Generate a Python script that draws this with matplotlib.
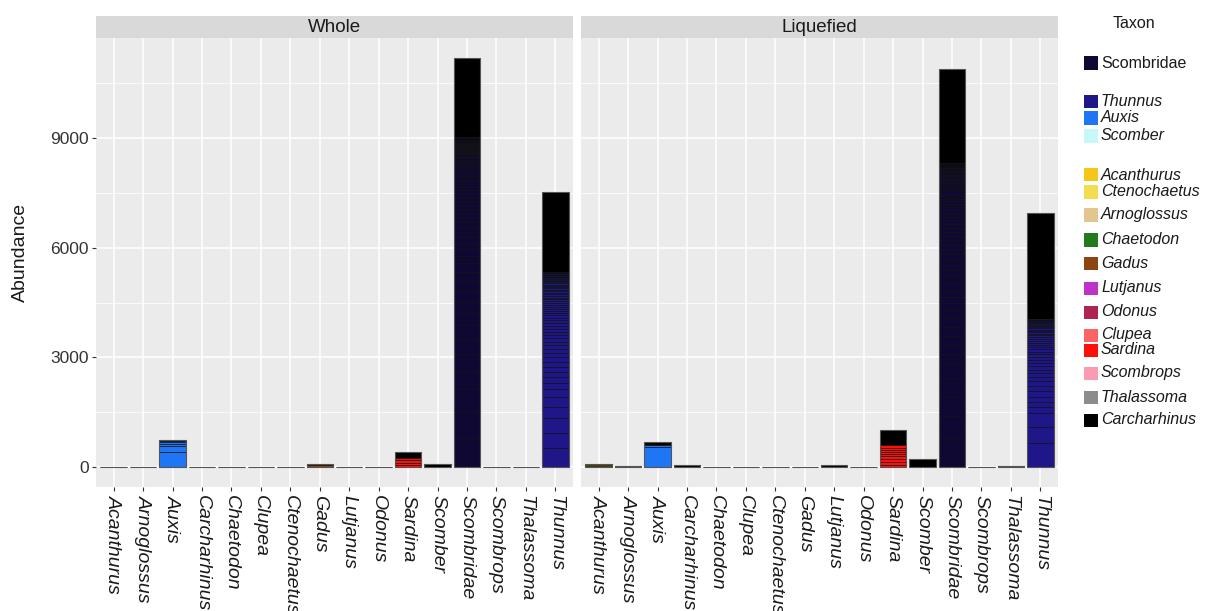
import matplotlib
matplotlib.use("Agg")
import matplotlib.pyplot as plt
from matplotlib.patches import Rectangle

plt.rcParams['font.family'] = ['Liberation Sans', 'DejaVu Sans']

# categories on the x axis (both panels)
taxa = ['Acanthurus', 'Arnoglossus', 'Auxis', 'Carcharhinus', 'Chaetodon', 'Clupea',
        'Ctenochaetus', 'Gadus', 'Lutjanus', 'Odonus', 'Sardina', 'Scomber',
        'Scombridae', 'Scombrops', 'Thalassoma', 'Thunnus']

# bar totals
whole_totals = [8, 8, 738, 8, 8, 8, 8, 95, 8, 8, 418, 90, 11177, 8, 8, 7529]
liquefied_totals = [95, 36, 692, 63, 8, 8, 8, 8, 63, 8, 1012, 210, 10893, 8, 30, 6938]

# visible stacked segments (bottom up); the rest of each bar is a dense black band
whole_auxis = [410, 164, 66, 34, 24]
whole_gadus = [50, 35]
whole_sardina = [60, 60, 65, 53]
whole_scombridae = [785, 728, 612, 509, 456, 402, 383, 328, 318, 301, 273, 246, 230, 199, 183,
                    170, 160, 150, 140, 135, 128, 120, 115, 110, 104, 98, 94, 90, 86, 82, 78, 74,
                    70, 66, 63, 60, 57, 54, 51, 48, 45, 42, 40, 38, 36, 34, 32, 30, 29, 28, 27,
                    26, 25, 24, 23, 22, 21, 20, 19, 18, 17, 16, 15, 14, 13, 12, 11]
whole_thunnus = [511, 427, 393, 318, 274, 202, 168, 164, 150, 140, 130, 120, 115, 110, 105, 100,
                 95, 92, 88, 85, 80, 76, 72, 68, 65, 62, 60, 58, 55, 55, 52, 50, 50, 47, 45, 44,
                 42, 40, 40, 38, 36, 35, 34, 32, 30, 30, 28, 26, 25, 24, 22, 20, 20, 18, 16, 15,
                 14, 12, 10, 8]

liq_acanthurus = [35, 30, 22]
liq_auxis = [560, 42]
liq_sardina = [63, 74, 82, 71, 55, 55, 55, 66, 90]
liq_scombridae = [785, 610, 528, 502, 411, 250, 250, 246, 238, 247, 226, 183, 164, 182, 200, 199,
                  160, 150, 145, 140, 135, 130, 125, 120, 115, 110, 105, 100, 96, 92, 88, 84, 80,
                  76, 72, 68, 65, 62, 59, 56, 53, 50, 47, 44, 41, 38, 36, 34, 32, 30, 28, 26, 24,
                  22, 20, 18, 17, 16, 15, 14, 13, 12, 11, 10, 9, 8]
liq_thunnus = [648, 455, 365, 181, 137, 137, 150, 140, 130, 110, 105, 100, 95, 90, 85, 80, 76, 72,
               68, 64, 60, 57, 54, 51, 48, 45, 42, 40, 38, 36, 34, 32, 30, 28, 26, 24, 22, 20,
               18, 16, 14, 12, 10]

whole_segments = {'Auxis': whole_auxis, 'Gadus': whole_gadus, 'Sardina': whole_sardina,
                  'Scombridae': whole_scombridae, 'Thunnus': whole_thunnus}
liq_segments = {'Acanthurus': liq_acanthurus, 'Auxis': liq_auxis, 'Sardina': liq_sardina,
                'Scombridae': liq_scombridae, 'Thunnus': liq_thunnus}

# legend order / colours
legend_taxa = ['Scombridae', 'Thunnus', 'Auxis', 'Scomber', 'Acanthurus', 'Ctenochaetus',
               'Arnoglossus', 'Chaetodon', 'Gadus', 'Lutjanus', 'Odonus', 'Clupea', 'Sardina',
               'Scombrops', 'Thalassoma', 'Carcharhinus']
legend_colors = ['#0E0833', '#1F1689', '#1E76F5', '#C8F7F7', '#F5C518', '#F3DC50',
                 '#E3C68E', '#237A1E', '#8A4513', '#BE32C8', '#AD2550', '#FA6464', '#FF0F0A',
                 '#FA9BB4', '#8C8C8C', '#000000']
legend_y = [63, 102, 118, 136, 175, 192, 215, 240, 263, 288, 312, 335, 350, 373, 397, 420]
taxon_color = dict(zip(legend_taxa, legend_colors))

W, H = 1206, 611
fig = plt.figure(figsize=(W / 100, H / 100), dpi=100)


def px_axes(x0, y0, x1, y1, **kw):
    return fig.add_axes([x0 / W, 1 - y1 / H, (x1 - x0) / W, (y1 - y0) / H], **kw)


def draw_panel(x0, x1, title, totals, segments, show_y):
    ax = px_axes(x0, 38, x1, 487)
    ax.set_facecolor('#EBEBEB')
    for i, t in enumerate(taxa):
        bottom = 0
        for v in segments.get(t, []):
            ax.bar(i, v, bottom=bottom, width=0.9, color=taxon_color[t],
                   edgecolor='#0a0a0a', linewidth=0.45, zorder=3)
            bottom += v
        rest = totals[i] - bottom
        if rest > 0:
            ax.bar(i, rest, bottom=bottom, width=0.9, color='black',
                   edgecolor='#1a1a1a', linewidth=0.45, zorder=3)
        ax.bar(i, totals[i], width=0.9, fill=False, edgecolor='#555555',
               linewidth=0.8, zorder=4)
    ax.set_xlim(-0.6, len(taxa) - 0.4)
    ax.set_ylim(-547, 11736)
    ax.set_yticks([0, 3000, 6000, 9000])
    ax.set_yticks([1500, 4500, 7500, 10500], minor=True)
    ax.set_xticks(range(len(taxa)))
    ax.set_xticklabels(taxa, rotation=270, style='italic', fontsize=14,
                       color='#1a1a1a', va='top', ha='center')
    ax.grid(True, which='major', color='white', linewidth=1.1, zorder=0)
    ax.grid(True, which='minor', axis='y', color='white', linewidth=0.55, zorder=0)
    ax.set_axisbelow(True)
    for s in ax.spines.values():
        s.set_visible(False)
    ax.tick_params(axis='x', length=3, color='#333333', width=0.8, pad=3)
    ax.tick_params(axis='y', which='minor', length=0)
    if show_y:
        ax.tick_params(axis='y', length=3, color='#333333', width=0.8, pad=2,
                       labelsize=12.5, labelcolor='#333333')
    else:
        ax.tick_params(axis='y', length=0, labelleft=False)
    strip = px_axes(x0, 16, x1, 38)
    strip.set_facecolor('#D9D9D9')
    strip.set_xticks([])
    strip.set_yticks([])
    for s in strip.spines.values():
        s.set_visible(False)
    strip.text(0.5, 0.5, title, ha='center', va='center', fontsize=13.5,
               color='#1a1a1a', transform=strip.transAxes)
    return ax


draw_panel(96, 573, 'Whole', whole_totals, whole_segments, True)
draw_panel(581, 1058, 'Liquefied', liquefied_totals, liq_segments, False)

fig.text(20 / W, 1 - 252 / H, 'Abundance', rotation=90, ha='center', va='center',
         fontsize=14, color='#1a1a1a')

# legend
fig.text(1134 / W, 1 - 24 / H, 'Taxon', ha='center', va='center', fontsize=11.5,
         color='#1a1a1a')
for t, c, y in zip(legend_taxa, legend_colors, legend_y):
    fig.add_artist(Rectangle((1084 / W, 1 - (y + 6.5) / H), 14 / W, 13 / H,
                             facecolor=c, edgecolor='none', transform=fig.transFigure))
    fig.text(1101 / W, 1 - y / H, t, ha='left', va='center', fontsize=11.5,
             style='normal' if t == 'Scombridae' else 'italic', color='#1a1a1a')

fig.savefig('out.png', dpi=100)
